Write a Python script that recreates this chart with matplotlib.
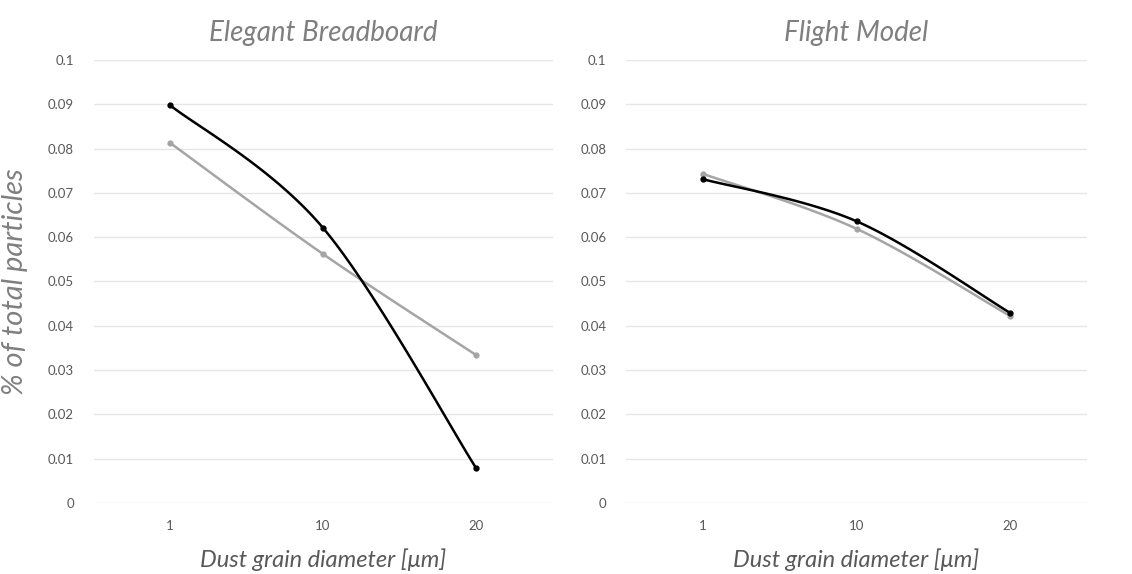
import numpy as np
import matplotlib.pyplot as plt

categories = ["1", "10", "20"]
titles = ["Elegant Breadboard", "Flight Model"]

eb_black = [0.0898, 0.0621, 0.0079]
eb_gray = [0.0813, 0.0562, 0.0334]
fm_black = [0.0731, 0.0636, 0.0429]
fm_gray = [0.0743, 0.0619, 0.0422]

yticks = [0, 0.01, 0.02, 0.03, 0.04, 0.05, 0.06, 0.07, 0.08, 0.09, 0.1]
ytick_labels = ["0", "0.01", "0.02", "0.03", "0.04", "0.05", "0.06", "0.07", "0.08", "0.09", "0.1"]

FONT = "Lato"
TXT = "#7f7f7f"


def smooth(xs, ys, yscale, n=40):
    """Catmull-Rom curve (like Excel smoothed line), done in a pixel-like space"""
    px = np.asarray(xs, float)
    py = np.asarray(ys, float) * yscale
    P = np.column_stack([px, py])
    P = np.vstack([P[0], P, P[-1]])
    out = []
    for i in range(1, len(P) - 2):
        p0, p1, p2, p3 = P[i - 1], P[i], P[i + 1], P[i + 2]
        c1 = p1 + (p2 - p0) / 6
        c2 = p2 - (p3 - p1) / 6
        t = np.linspace(0, 1, n)[:, None]
        seg = (1 - t) ** 3 * p1 + 3 * (1 - t) ** 2 * t * c1 + 3 * (1 - t) * t ** 2 * c2 + t ** 3 * p2
        out.append(seg if i == 1 else seg[1:])
    out = np.vstack(out)
    return out[:, 0], out[:, 1] / yscale


fig = plt.figure(figsize=(11.32, 5.74), dpi=100)
positions = [[0.0826, 0.1237, 0.4055, 0.7718], [0.5530, 0.1237, 0.4073, 0.7718]]
panels = [(eb_black, eb_gray), (fm_black, fm_gray)]

# pixels per x-category vs per y unit, for smoothing in screen-like space
yscale = 4430 / 153

for k, (pos, (blk, gry)) in enumerate(zip(positions, panels)):
    ax = fig.add_axes(pos)
    x = np.arange(len(categories))
    for vals, col in [(gry, "#a5a5a5"), (blk, "#000000")]:
        sx, sy = smooth(x, vals, yscale)
        ax.plot(sx, sy, color=col, lw=1.8, zorder=3, solid_capstyle="round")
        ax.plot(x, vals, "o", color=col, ms=3.5, zorder=4)
    ax.set_xlim(-0.5, 2.5)
    ax.set_ylim(0, 0.1)
    ax.set_xticks(x)
    ax.set_xticklabels(categories)
    ax.set_yticks(yticks)
    ax.set_yticklabels(ytick_labels)
    ax.grid(axis="y", color="#e6e6e6", lw=1)
    ax.set_axisbelow(True)
    for s in ax.spines.values():
        s.set_visible(False)
    ax.tick_params(length=0, labelsize=9.5, labelcolor="#595959", pad=14)
    ax.tick_params(axis="x", pad=12)
    for lab in ax.get_xticklabels() + ax.get_yticklabels():
        lab.set_family(FONT)
    ax.set_title(titles[k], fontsize=20, style="italic", color=TXT, family=FONT, pad=14)
    ax.set_xlabel("Dust grain diameter [\u03bcm]", fontsize=17, style="italic",
                  color="#595959", family=FONT, labelpad=12)
    if k == 0:
        ax.set_ylabel("% of total particles", fontsize=21, style="italic",
                      color=TXT, family=FONT, labelpad=14)

plt.savefig("out.png", dpi=100)
